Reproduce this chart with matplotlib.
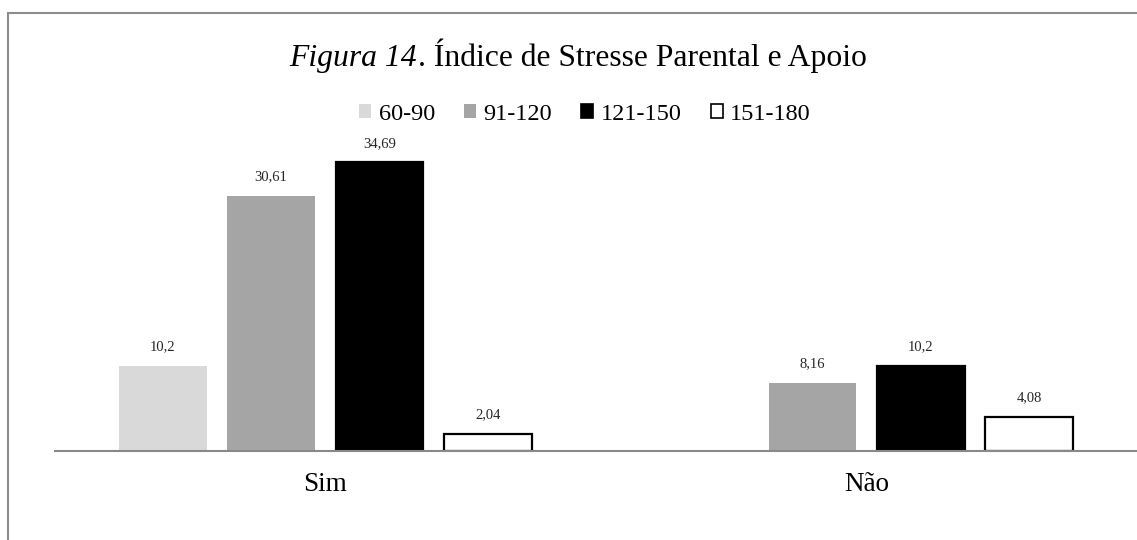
import matplotlib.pyplot as plt
import numpy as np

plt.rcParams['font.family'] = ['Liberation Serif', 'DejaVu Serif']

categories = ['Sim', 'Não']
series = ['60-90', '91-120', '121-150', '151-180']
values = [
    [10.2, None],
    [30.61, 8.16],
    [34.69, 10.2],
    [2.04, 4.08],
]
labels = [
    ['10,2', None],
    ['30,61', '8,16'],
    ['34,69', '10,2'],
    ['2,04', '4,08'],
]
colors = ['#d9d9d9', '#a5a5a5', '#000000', '#ffffff']
edges = ['none', 'none', '#000000', '#000000']

fig = plt.figure(figsize=(11.37, 5.4), dpi=100)
ax = fig.add_axes([54.5 / 1137, 89 / 540, 1083 / 1137, 333 / 540])

x = np.arange(len(categories))
width = 0.162
step = 0.2
handles = []
for i, s in enumerate(series):
    off = (i - 1.5) * step
    xs = [x[j] + off for j in range(len(categories)) if values[i][j] is not None]
    ys = [values[i][j] for j in range(len(categories)) if values[i][j] is not None]
    bars = ax.bar(xs, ys, width, color=colors[i], edgecolor=edges[i],
                  linewidth=1.6, label=s, zorder=2)
    handles.append(bars)
    k = 0
    for j in range(len(categories)):
        if values[i][j] is None:
            continue
        ax.annotate(labels[i][j], (xs[k], ys[k]), xytext=(0, 9),
                    textcoords='offset points', ha='center', va='bottom',
                    fontsize=10.5, color='#262626')
        k += 1

ax.set_xlim(-0.5, 1.5)
ax.set_ylim(0, 40)
ax.set_yticks([])
ax.set_xticks(x)
ax.set_xticklabels(categories, fontsize=19.5)
ax.tick_params(axis='x', length=0, pad=15)
for sp in ['top', 'right', 'left']:
    ax.spines[sp].set_visible(False)
ax.spines['bottom'].set_color('#898989')
ax.spines['bottom'].set_linewidth(1.5)
ax.spines['bottom'].set_zorder(3)

leg = fig.legend(handles=handles, labels=series, loc='center',
                 bbox_to_anchor=(585 / 1137, 1 - 114 / 540), ncol=4, frameon=False,
                 fontsize=17.5, handlelength=0.5, handleheight=0.5,
                 handletextpad=0.3, columnspacing=1.2)
for h in leg.legend_handles:
    h.set_linewidth(1.2)

# title with italic prefix
fig.canvas.draw()
r = fig.canvas.get_renderer()
ty = 1 - 66 / 540
t1 = fig.text(0, ty, 'Figura 14', style='italic', fontsize=22.8,
              va='baseline', ha='left')
t2 = fig.text(0, ty, '. Índice de Stresse Parental e Apoio', fontsize=22.8,
              va='baseline', ha='left')
w1 = t1.get_window_extent(r).width
start = 289
t1.set_x(start / 1137)
t2.set_x((start + w1 + 1) / 1137)

border = plt.Rectangle((8 / 1137, -0.1), 1.2, 1 - 13 / 540 + 0.1,
                       transform=fig.transFigure, fill=False,
                       edgecolor='#8c8c8c', linewidth=1.5)
fig.add_artist(border)

fig.savefig('out.png', dpi=100)
